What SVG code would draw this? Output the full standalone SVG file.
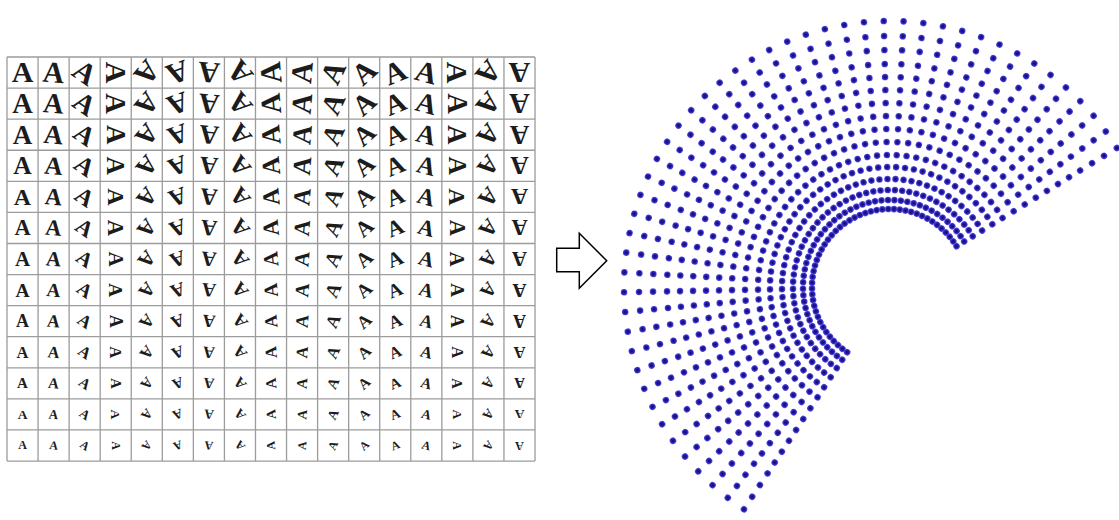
<svg xmlns="http://www.w3.org/2000/svg" xmlns:xlink="http://www.w3.org/1999/xlink" width="1119" height="520" viewBox="0 0 1119 520">
<style>
.grid{fill:none;stroke:#9c9c9c;stroke-width:1.3}
.letters{font-family:"Liberation Serif","Times New Roman",serif;font-weight:bold;fill:#1c1c1c;text-anchor:middle}
.dot{fill:url(#dg)}
.arrow{fill:#ffffff;stroke:#000000;stroke-width:1.5;stroke-linejoin:miter}
</style>
<defs>
<radialGradient id="dg">
<stop offset="0" stop-color="#100c62"/>
<stop offset="0.55" stop-color="#241ba6"/>
<stop offset="1" stop-color="#5a50e6"/>
</radialGradient>
<text id="A" y="0.33em">A</text>
<g id="row">
<use href="#A" transform="translate(22.5,0) rotate(0)"/>
<use href="#A" transform="translate(53.6,0) rotate(5)"/>
<use href="#A" transform="translate(84.7,0) rotate(35)"/>
<use href="#A" transform="translate(115.7,0) rotate(90)"/>
<use href="#A" transform="translate(146.8,0) rotate(130)"/>
<use href="#A" transform="translate(177.8,0) rotate(160)"/>
<use href="#A" transform="translate(208.9,0) rotate(185)"/>
<use href="#A" transform="translate(240,0) rotate(230)"/>
<use href="#A" transform="translate(271,0) rotate(265)"/>
<use href="#A" transform="translate(302.1,0) rotate(275)"/>
<use href="#A" transform="translate(333.1,0) rotate(295)"/>
<use href="#A" transform="translate(364.2,0) rotate(318)"/>
<use href="#A" transform="translate(395.2,0) rotate(338)"/>
<use href="#A" transform="translate(426.3,0) rotate(15)"/>
<use href="#A" transform="translate(457.4,0) rotate(90)"/>
<use href="#A" transform="translate(488.4,0) rotate(130)"/>
<use href="#A" transform="translate(519.5,0) rotate(180)"/>
</g>
<g id="ray">
<circle class="dot" cx="266" cy="0" r="3.3"/>
<circle class="dot" cx="251" cy="0" r="3.3"/>
<circle class="dot" cx="237" cy="0" r="3.3"/>
<circle class="dot" cx="223" cy="0" r="3.3"/>
<circle class="dot" cx="210" cy="0" r="3.3"/>
<circle class="dot" cx="197" cy="0" r="3.3"/>
<circle class="dot" cx="184" cy="0" r="3.3"/>
<circle class="dot" cx="171" cy="0" r="3.3"/>
<circle class="dot" cx="158" cy="0" r="3.3"/>
<circle class="dot" cx="145" cy="0" r="3.3"/>
<circle class="dot" cx="132" cy="0" r="3.3"/>
<circle class="dot" cx="120" cy="0" r="3.3"/>
<circle class="dot" cx="108" cy="0" r="3.3"/>
<circle class="dot" cx="97" cy="0" r="3.3"/>
<circle class="dot" cx="87" cy="0" r="3.3"/>
<circle class="dot" cx="78" cy="0" r="3.3"/>
</g>
<g id="fan7">
<use href="#ray"/>
<use href="#ray" transform="rotate(-4.275)"/>
<use href="#ray" transform="rotate(-8.55)"/>
<use href="#ray" transform="rotate(-12.825)"/>
<use href="#ray" transform="rotate(-17.1)"/>
<use href="#ray" transform="rotate(-21.375)"/>
<use href="#ray" transform="rotate(-25.65)"/>
</g>
</defs>
<rect width="1119" height="520" fill="#ffffff"/>
<g id="letter-grid">
<path class="grid" d="M7,57V461M38.06,57V461M69.12,57V461M100.18,57V461M131.24,57V461M162.3,57V461M193.36,57V461M224.42,57V461M255.48,57V461M286.54,57V461M317.6,57V461M348.66,57V461M379.72,57V461M410.78,57V461M441.84,57V461M472.9,57V461M503.96,57V461M535.02,57V461M7,57H535M7,88.08H535M7,119.16H535M7,150.24H535M7,181.32H535M7,212.4H535M7,243.48H535M7,274.56H535M7,305.64H535M7,336.72H535M7,367.8H535M7,398.88H535M7,429.96H535M7,461.04H535"/>
<g class="letters">
<use href="#row" y="72.5" font-size="30"/>
<use href="#row" y="103.6" font-size="28.5"/>
<use href="#row" y="134.7" font-size="27"/>
<use href="#row" y="165.8" font-size="25.5"/>
<use href="#row" y="196.9" font-size="24"/>
<use href="#row" y="227.9" font-size="22.5"/>
<use href="#row" y="259" font-size="21"/>
<use href="#row" y="290.1" font-size="19.5"/>
<use href="#row" y="321.2" font-size="18"/>
<use href="#row" y="352.3" font-size="16.5"/>
<use href="#row" y="383.3" font-size="15"/>
<use href="#row" y="414.4" font-size="13.5"/>
<use href="#row" y="445.5" font-size="12"/>
</g>
</g>
<g id="arrow">
<polygon class="arrow" points="556.7,248.3 579.3,248.3 579.3,233.3 606.7,260.7 579.3,288.3 579.3,271.7 556.7,271.7"/>
</g>
<g id="dot-fan" transform="translate(890,287) rotate(-31.5)">
<use href="#fan7"/>
<use href="#fan7" transform="rotate(-29.925)"/>
<use href="#fan7" transform="rotate(-59.85)"/>
<use href="#fan7" transform="rotate(-89.775)"/>
<use href="#fan7" transform="rotate(-119.7)"/>
<use href="#fan7" transform="rotate(-149.625)"/>
<use href="#fan7" transform="rotate(-179.55)"/>
</g>
</svg>
